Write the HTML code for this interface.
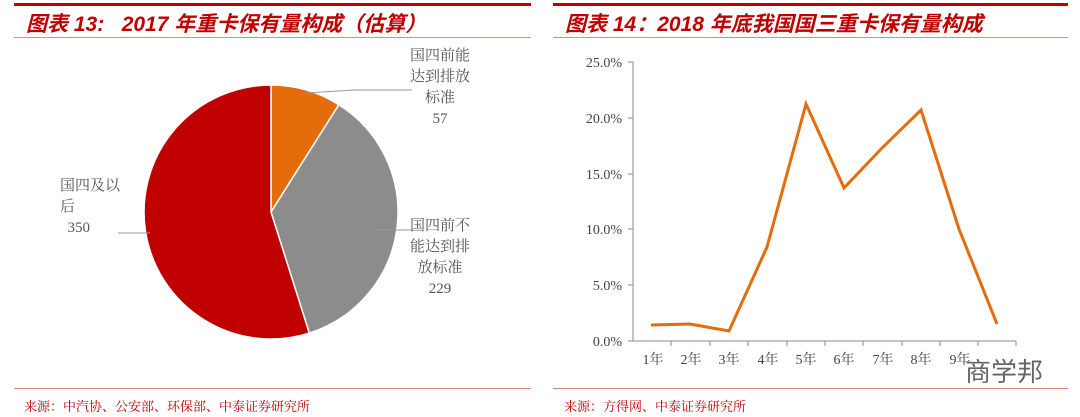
<!DOCTYPE html><html><head><meta charset="utf-8"><style>
body{margin:0;width:1080px;height:417px;background:#fff;position:relative;overflow:hidden;font-family:"Liberation Serif","Noto Serif CJK SC",serif}
.t{position:absolute;color:#c00000;font:italic bold 21px "Liberation Sans","Noto Sans CJK SC",sans-serif}
.f{position:absolute;color:#c00000;font-size:13px;font-family:"Noto Serif CJK SC",serif}
.l{position:absolute;color:#555;font-size:15px;line-height:21px;text-align:center}
</style></head><body>
<div style="position:absolute;left:14px;top:3px;width:517px;height:3px;background:#c00000"></div>
<div style="position:absolute;left:553px;top:3px;width:515px;height:3px;background:#c00000"></div>
<div style="position:absolute;left:14px;top:37px;width:517px;height:1px;background:#d88"></div>
<div style="position:absolute;left:553px;top:37px;width:515px;height:1px;background:#d88"></div>
<div style="position:absolute;left:14px;top:388px;width:517px;height:1px;background:#d88"></div>
<div style="position:absolute;left:553px;top:388px;width:515px;height:1px;background:#d88"></div>
<div class="t" style="left:26px;top:8px">图表 13:&nbsp;&nbsp;&nbsp;2017 年重卡保有量构成（估算）</div>
<div class="t" style="left:565px;top:8px">图表 14：2018 年底我国国三重卡保有量构成</div>
<div class="f" style="left:24px;top:396px">来源：中汽协、公安部、环保部、中泰证券研究所</div>
<div class="f" style="left:564px;top:396px">来源：方得网、中泰证券研究所</div>
<svg width="1080" height="417" style="position:absolute;left:0;top:0">
<g transform="translate(271,212)">
<path d="M0,0 L0,-127 A127,127 0 0 1 67.9,-107.3 Z" fill="#e46c0a" stroke="#fff" stroke-width="1.5"/>
<path d="M0,0 L67.9,-107.3 A127,127 0 0 1 38.3,121.1 Z" fill="#8c8c8c" stroke="#fff" stroke-width="1.5"/>
<path d="M0,0 L38.3,121.1 A127,127 0 1 1 0,-127 Z" fill="#c00000" stroke="#fff" stroke-width="1.5"/>
</g>
<polyline points="305,93 355,90 412,90" fill="none" stroke="#999"/>
<polyline points="375,230 412,230" fill="none" stroke="#999"/>
<polyline points="118,233 150,233" fill="none" stroke="#999"/>
<g stroke="#888" fill="none">
<line x1="633" y1="62" x2="633" y2="341"/><line x1="633" y1="341" x2="1016" y2="341"/>
<line x1="628" y1="62" x2="633" y2="62"/><line x1="628" y1="118" x2="633" y2="118"/><line x1="628" y1="174" x2="633" y2="174"/><line x1="628" y1="229" x2="633" y2="229"/><line x1="628" y1="285" x2="633" y2="285"/><line x1="628" y1="341" x2="633" y2="341"/>
<path d="M671,341v5M710,341v5M748,341v5M787,341v5M825,341v5M863,341v5M902,341v5M940,341v5M978,341v5M1016,341v5"/>
</g>
<polyline points="651,325 690,324 729,331 767,247 806,104 844,188 882,148 921,110 959,229 997,324" fill="none" stroke="#e46c0a" stroke-width="3"/>
<g font-size="14" fill="#444" text-anchor="end" font-family="Liberation Serif">
<text x="622" y="67">25.0%</text><text x="622" y="123">20.0%</text><text x="622" y="179">15.0%</text><text x="622" y="234">10.0%</text><text x="622" y="290">5.0%</text><text x="622" y="346">0.0%</text>
</g>
<g font-size="14" fill="#444" text-anchor="middle" font-family="Liberation Serif,Noto Serif CJK SC">
<text x="653" y="364">1年</text><text x="691" y="364">2年</text><text x="729" y="364">3年</text><text x="768" y="364">4年</text><text x="806" y="364">5年</text><text x="844" y="364">6年</text><text x="883" y="364">7年</text><text x="921" y="364">8年</text><text x="960" y="364">9年</text>
</g>
<text x="965" y="381" font-size="26" fill="#666" font-family="Noto Sans CJK SC">商学邦</text>
</svg>
<div class="l" style="left:410px;top:46px">国四前能<br>达到排放<br>标准<br>57</div>
<div class="l" style="left:410px;top:216px">国四前不<br>能达到排<br>放标准<br>229</div>
<div class="l" style="left:60px;top:176px;width:75px;text-align:left">国四及以<br>后<br>&nbsp;&nbsp;350</div>
</body></html>
